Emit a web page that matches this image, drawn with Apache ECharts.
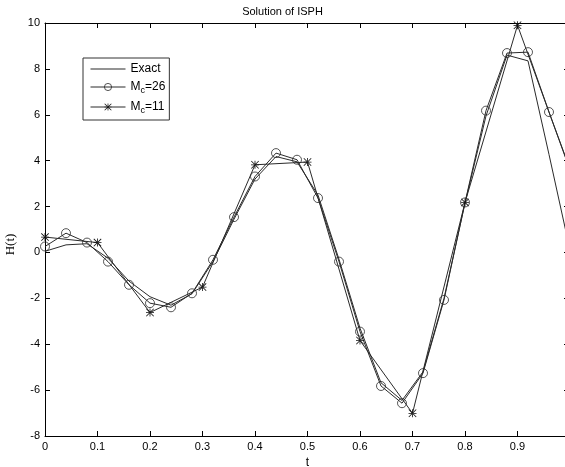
<!DOCTYPE html>
<html>
<head>
<meta charset="utf-8">
<script src="https://cdn.jsdelivr.net/npm/echarts@6/dist/echarts.min.js"></script>
<style>html,body{margin:0;padding:0;background:#fff}#c{width:565px;height:467px}</style>
</head>
<body>
<div id="c"></div>
<script>
// ---- data ----
var tFine = [0, 0.04, 0.08, 0.12, 0.16, 0.20, 0.24, 0.28, 0.32, 0.36, 0.40, 0.44, 0.48,
             0.52, 0.56, 0.60, 0.64, 0.68, 0.72, 0.76, 0.80, 0.84, 0.88, 0.92, 0.96, 1.00];
var exactVals = [0.05, 0.33, 0.38, -0.25, -1.25, -1.93, -2.3, -1.8, -0.4, 1.45, 3.2, 4.18, 3.95,
                 2.5, -0.3, -3.3, -5.68, -6.45, -5.2, -2.0, 2.15, 5.95, 8.6, 8.35, 4.27, 0.1];
var mc26Vals = [0.26, 0.84, 0.43, -0.40, -1.41, -2.21, -2.39, -1.78, -0.32, 1.54, 3.31, 4.33, 4.04,
                2.37, -0.40, -3.45, -5.82, -6.57, -5.26, -2.07, 2.18, 6.18, 8.69, 8.73, 6.12, 3.63];
var tCoarse = [0, 0.1, 0.2, 0.3, 0.4, 0.5, 0.6, 0.7, 0.8, 0.9, 1.0];
var mc11Vals = [0.67, 0.43, -2.62, -1.51, 3.82, 3.94, -3.84, -7.01, 2.18, 9.9, 3.59];
var seriesNames = ['Exact', 'Mc=26', 'Mc=11'];
var chartTitle = 'Solution of ISPH';
var xName = 't';
var yName = 'H(t)';

function pairs(xs, ys) { return xs.map(function (x, i) { return [x, ys[i]]; }); }

var starPath = 'path://M9,0L11,0L11,20L9,20Z M0,9L20,9L20,11L0,11Z M1.4,0L0,1.4L18.6,20L20,18.6Z M18.6,0L20,1.4L1.4,20L0,18.6Z';
var lineCol = '#2a2a2a';
var tickFont = 'Liberation Sans, Arial, sans-serif';

var chart = echarts.init(document.getElementById('c'), null, {renderer: 'canvas'});
chart.setOption({
  animation: false,
  backgroundColor: '#fff',
  title: {
    text: chartTitle, left: 'center', top: 1,
    textStyle: {fontFamily: tickFont, fontSize: 11, fontWeight: 'normal', color: '#000'}
  },
  grid: {left: 45, right: -5, top: 23, bottom: 31, containLabel: false, outerBoundsMode: 'none'},
  legend: {
    orient: 'vertical', left: 83, top: 58,
    data: [
      {name: seriesNames[0], icon: 'path://M0,0L36,0L36,1L0,1Z'},
      {name: seriesNames[1], itemStyle: {color: 'rgba(255,255,255,0)', borderColor: lineCol, borderWidth: 0.8}},
      seriesNames[2]
    ],
    itemWidth: 35, itemHeight: 9, itemGap: 6,
    borderColor: '#333', borderWidth: 1, borderRadius: 0,
    padding: [5, 4, 5, 7],
    backgroundColor: '#fff',
    lineStyle: {width: 1, color: lineCol},
    formatter: function (n) {
      if (n === 'Exact') return '{n|Exact}';
      return '{n|M}{s|c}{n|' + n.slice(2) + '}';
    },
    textStyle: {
      fontFamily: tickFont, fontSize: 12, color: '#000',
      rich: {
        n: {fontFamily: tickFont, fontSize: 12, color: '#000'},
        s: {fontFamily: tickFont, fontSize: 9, color: '#000', padding: [7, 0, 0, 0]}
      }
    }
  },
  xAxis: [{
    type: 'value', min: 0, max: 1, interval: 0.1, position: 'bottom',
    name: xName, nameLocation: 'middle', nameGap: 17,
    nameTextStyle: {fontFamily: tickFont, fontSize: 12, color: '#000'},
    axisLine: {onZero: false, lineStyle: {color: '#000', width: 1}},
    axisTick: {inside: true, length: 5, lineStyle: {color: '#000'}},
    axisLabel: {margin: 5, fontFamily: tickFont, fontSize: 11, color: '#000',
      formatter: function (v) { return String(Math.round(v * 10) / 10); }},
    splitLine: {show: false}
  }, {
    type: 'value', min: 0, max: 1, interval: 0.1, position: 'top',
    axisLine: {onZero: false, lineStyle: {color: '#000', width: 1}},
    axisTick: {inside: true, length: 5, lineStyle: {color: '#000'}},
    axisLabel: {show: false}, splitLine: {show: false}
  }],
  yAxis: [{
    type: 'value', min: -8, max: 10, interval: 2, position: 'left',
    name: yName, nameLocation: 'middle', nameGap: 27, nameRotate: 90,
    nameTextStyle: {fontFamily: 'Liberation Serif, Times New Roman, serif', fontSize: 13, color: '#000', padding: [0, 30, 0, 0]},
    axisLine: {show: true, onZero: false, lineStyle: {color: '#000', width: 1}},
    axisTick: {show: true, inside: true, length: 5, lineStyle: {color: '#000'}},
    axisLabel: {margin: 5, fontFamily: tickFont, fontSize: 11, color: '#000'},
    splitLine: {show: false}
  }, {
    type: 'value', min: -8, max: 10, interval: 2, position: 'right',
    axisLine: {show: true, onZero: false, lineStyle: {color: '#000', width: 1}},
    axisTick: {show: true, inside: true, length: 6, lineStyle: {color: '#000'}},
    axisLabel: {show: false}, splitLine: {show: false}
  }],
  series: [{
    name: seriesNames[0], type: 'line', data: pairs(tFine, exactVals),
    symbol: 'none', lineStyle: {color: lineCol, width: 1}, itemStyle: {color: lineCol}
  }, {
    name: seriesNames[1], type: 'line', data: pairs(tFine, mc26Vals),
    symbol: 'circle', symbolSize: 9, showAllSymbol: true,
    lineStyle: {color: lineCol, width: 1},
    itemStyle: {color: 'rgba(255,255,255,0)', borderColor: lineCol, borderWidth: 0.8}
  }, {
    name: seriesNames[2], type: 'line', data: pairs(tCoarse, mc11Vals),
    symbol: starPath, symbolSize: 8, showAllSymbol: true,
    lineStyle: {color: lineCol, width: 1},
    itemStyle: {color: '#111', borderWidth: 0}
  }]
});
</script>
</body>
</html>
